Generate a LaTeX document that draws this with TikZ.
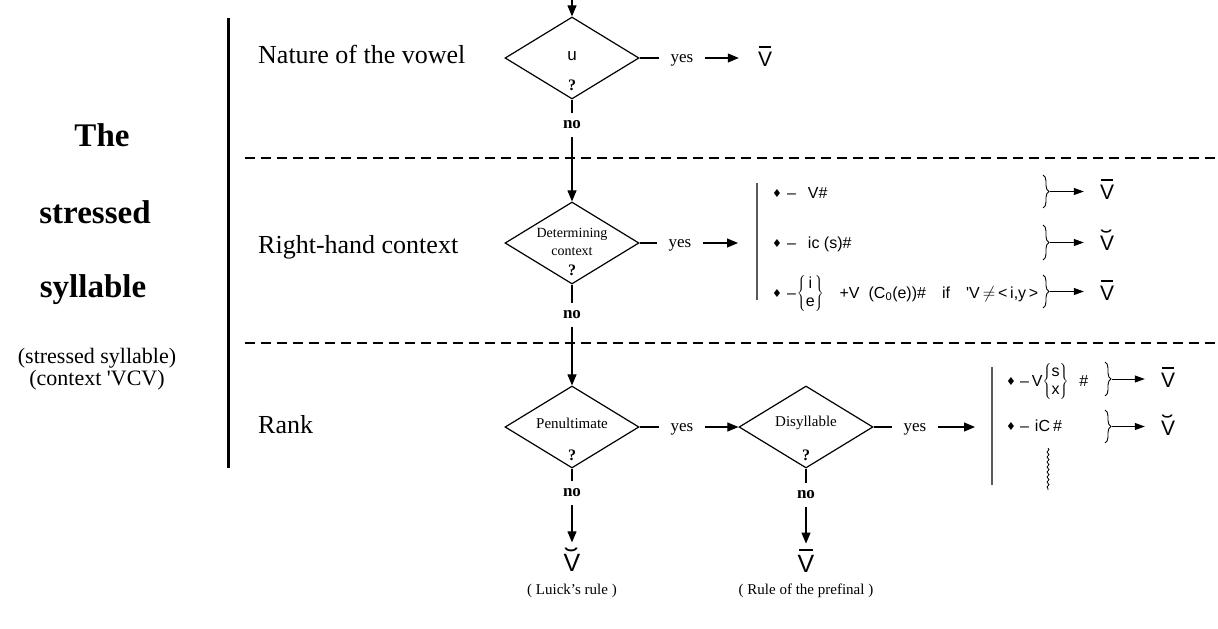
\documentclass[tikz,border=0pt]{standalone}
\usepackage{graphicx}
\usepackage{fontspec}
\setmainfont{Liberation Serif}
\newfontfamily\arial{Liberation Sans}
\newfontfamily\dejavu{DejaVu Sans}
\usetikzlibrary{arrows.meta,shapes.geometric,decorations.pathreplacing,decorations.pathmorphing}
\newcommand{\myfs}[1]{\fontsize{#1}{#1}\selectfont}
\newcommand{\Vlong}{\leavevmode\rlap{\hspace{0.07em}\raisebox{0.86em}{\rule{0.53em}{0.07em}}}V}
\newcommand{\Vshort}{\leavevmode\rlap{\makebox[0.667em]{\raisebox{0.2em}{\scalebox{1.6}[1]{˘}}}}V}
\newcommand{\dmd}{{\dejavu\myfs{11}\raisebox{0.5pt}{♦}}}
\newcommand{\stk}[2]{$\left\{\mbox{\renewcommand{\arraystretch}{1.12}\begin{tabular}{@{}c@{}}#1\\#2\end{tabular}}\right\}$}
\tikzset{
  dia/.style={draw, diamond, line width=1.2pt, minimum width=134pt, minimum height=82pt, inner sep=0pt},
  arr/.style={-{Triangle[length=11pt,width=9pt]}, line width=1.1pt},
  sarr/.style={-{Triangle[length=10pt,width=7pt]}, line width=1pt},
  ln/.style={line width=1.1pt},
  yesn/.style={font=\myfs{17}, inner xsep=11pt, inner ysep=8pt, text depth=0pt},
  non/.style={font=\bfseries\myfs{17}, inner xsep=11pt, inner ysep=8pt},
  sec/.style={font=\myfs{26}, anchor=base west, inner sep=0pt},
  big/.style={font=\bfseries\myfs{33}, inner sep=0pt},
  dtxt/.style={font=\myfs{15}, inner sep=0pt},
  qm/.style={font=\bfseries\myfs{16}, inner sep=0pt},
  rl/.style={font=\arial\myfs{16}, anchor=base west, inner sep=0pt},
  res/.style={font=\arial\myfs{21}, anchor=base, inner sep=2pt},
  bres/.style={font=\arial\myfs{25}, anchor=base, inner sep=2pt},
  vbar/.style={line width=1.4pt, draw=black!65},
  divider/.style={line width=1.3pt, dash pattern=on 10pt off 6pt},
  brc/.style={decorate, decoration={brace, amplitude=6pt}, line width=0.9pt},
}
\begin{document}
\begin{tikzpicture}[x=1pt,y=-1pt]
\useasboundingbox (0,0) rectangle (1218,629);
% left block
\node[big] (the) at (102,135) {The};
\node[big] (str) at (95,212) {stressed};
\node[big] (syl) at (93,290) {syllable};
\node[font=\myfs{22}, align=center, inner sep=0pt] (paren) at (97,369) {(stressed syllable)\\(context \textquotesingle VCV)};
\coordinate (lt) at (228,18);
\coordinate (lb) at (228,468);
\draw[line width=3pt] (lt) -- (lb);
% section labels
\node[sec] (s1) at (258,63) {Nature of the vowel};
\node[sec] (s2) at (258,253) {Right-hand context};
\node[sec] (s3) at (258,433) {Rank};
% dividers
\coordinate (da1) at (245,158); \coordinate (db1) at (1218,158);
\coordinate (da2) at (245,343); \coordinate (db2) at (1218,343);
\draw[divider] (da1) -- (db1);
\draw[divider] (da2) -- (db2);
% diamond 1
\coordinate (top) at (572,0);
\node[dia] (d1) at (572,58) {};
\node[font=\arial\myfs{17}, inner sep=0pt] (u) at (572,56) {u};
\node[qm] (q1) at (572,85) {?};
\node[yesn] (yes1) at (682,58) {yes};
\node[non] (no1) at (572,125) {no};
\node[res] (v1) at (765,66) {\Vlong};
\draw[arr] (top) -- (d1.north);
\draw[ln] (d1.east) -- (yes1.west);
\draw[arr, shorten >=17pt] (yes1.east) -- (yes1.east -| v1.west);
\draw[ln] (d1.south) -- (no1.north);
% diamond 2
\node[dia] (d2) at (572,243) {};
\node[font=\myfs{14}, inner sep=0pt] (t2a) at (572,234) {Determining};
\node[font=\myfs{14}, inner sep=0pt] (t2b) at (572,252) {context};
\node[qm] (q2) at (572,270) {?};
\node[yesn] (yes2) at (680,243) {yes};
\node[non] (no2) at (572,315) {no};
\draw[arr] (no1.south) -- (d2.north);
\draw[ln] (d2.east) -- (yes2.west);
\draw[ln] (d2.south) -- (no2.north);
\coordinate (b1t) at (757,183); \coordinate (b1b) at (757,300); \coordinate (b1m) at (757,243);
\draw[vbar] (b1t) -- (b1b);
\draw[arr, shorten >=19pt] (yes2.east) -- (b1m);
% rules set 1
\node[rl] (r1) at (772,198) {\dmd\hspace{5pt}–\hspace{12pt}V\#};
\node[rl] (r2) at (772,248) {\dmd\hspace{5pt}–\hspace{12pt}ic (s)\#};
\node[rl] (r3) at (772,298) {\dmd\hspace{5pt}–\hspace{1pt}\stk{i}{e}\hspace{16pt}+V\hspace{9pt}(C\textsubscript{0}(e))\#\hspace{16pt}if\hspace{16pt}\textquotesingle V\hspace{3pt}$\neq$\hspace{3pt}<\,i,y\,>};
\coordinate (br1a) at (1043,175); \coordinate (br1b) at (1043,208); \coordinate (br1t) at (1050,191.5);
\coordinate (br2a) at (1043,225); \coordinate (br2b) at (1043,260); \coordinate (br2t) at (1050,242.5);
\coordinate (br3a) at (1043,275); \coordinate (br3b) at (1043,308); \coordinate (br3t) at (1050,291.5);
\draw[brc] (br1a) -- (br1b);
\draw[brc] (br2a) -- (br2b);
\draw[brc] (br3a) -- (br3b);
\node[res] (rv1) at (1107,199) {\Vlong};
\node[res] (rv2) at (1107,250) {\Vshort};
\node[res] (rv3) at (1107,300) {\Vlong};
\draw[sarr, shorten >=14pt] (br1t) -- (br1t -| rv1.west);
\draw[sarr, shorten >=14pt] (br2t) -- (br2t -| rv2.west);
\draw[sarr, shorten >=14pt] (br3t) -- (br3t -| rv3.west);
% diamond 3 (Penultimate)
\node[dia] (d3) at (572,427) {};
\node[dtxt] (t3) at (572,423) {Penultimate};
\node[qm] (q3) at (572,455) {?};
\node[yesn] (yes3) at (682,427) {yes};
\node[non] (no3) at (572,493) {no};
\draw[arr] (no2.south) -- (d3.north);
\draw[ln] (d3.east) -- (yes3.west);
\draw[ln] (d3.south) -- (no3.north);
% diamond 4 (Disyllable)
\node[dia] (d4) at (806,427) {};
\node[dtxt] (t4) at (806,423) {Disyllable};
\node[qm] (q4) at (806,455) {?};
\draw[arr] (yes3.east) -- (d4.west);
\node[yesn] (yes4) at (915,427) {yes};
\node[non] (no4) at (806,495) {no};
\draw[ln] (d4.east) -- (yes4.west);
\draw[ln] (d4.south) -- (no4.north);
\coordinate (b2t) at (992,367); \coordinate (b2b) at (992,485); \coordinate (b2m) at (992,427);
\draw[vbar] (b2t) -- (b2b);
\draw[arr, shorten >=17pt] (yes4.east) -- (b2m);
% rank rules
\node[rl] (k1) at (1006,386) {\dmd\hspace{4pt}–\hspace{3pt}V\stk{s}{x}\hspace{11pt}\#};
\node[rl] (k2) at (1006,431) {\dmd\hspace{4pt}–\hspace{6pt}iC\hspace{3pt}\#};
\coordinate (wa) at (1048,448); \coordinate (wb) at (1048,490);
\draw[decorate, decoration={snake, amplitude=1pt, segment length=5pt}, line width=0.8pt] (wa) -- (wb);
\coordinate (bk1a) at (1105,362); \coordinate (bk1b) at (1105,396); \coordinate (bk1t) at (1112,379);
\coordinate (bk2a) at (1105,410); \coordinate (bk2b) at (1105,443); \coordinate (bk2t) at (1112,426.5);
\draw[brc] (bk1a) -- (bk1b);
\draw[brc] (bk2a) -- (bk2b);
\node[res] (kv1) at (1168,387) {\Vlong};
\node[res] (kv2) at (1168,435) {\Vshort};
\draw[sarr, shorten >=14pt] (bk1t) -- (bk1t -| kv1.west);
\draw[sarr, shorten >=14pt] (bk2t) -- (bk2t -| kv2.west);
% bottom results
\node[bres] (bv3) at (572,571) {\Vshort};
\node[bres] (bv4) at (806,572) {\Vlong};
\draw[arr, shorten >=3pt] (no3.south) -- (bv3.north);
\draw[arr, shorten >=3pt] (no4.south) -- (bv4.north);
\node[font=\myfs{15}, anchor=base, inner sep=0pt] (luick) at (572,594) {( Luick's rule )};
\node[font=\myfs{15}, anchor=base, inner sep=0pt] (pref) at (806,594) {( Rule of the prefinal )};
\end{tikzpicture}
\end{document}
